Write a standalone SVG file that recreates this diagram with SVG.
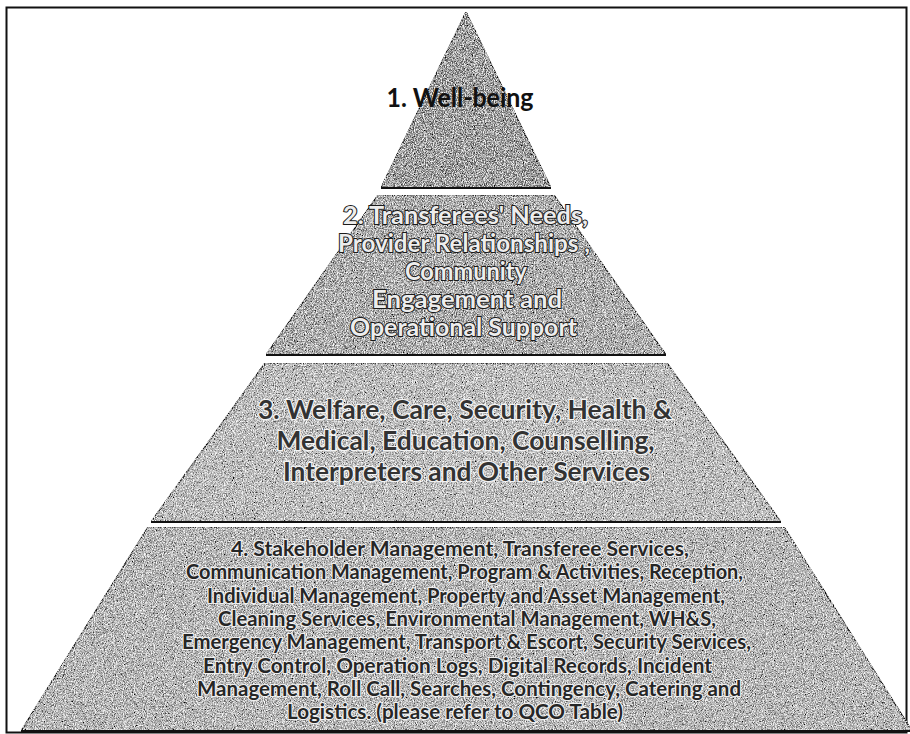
<svg xmlns="http://www.w3.org/2000/svg" width="910" height="734" viewBox="0 0 910 734">
  <defs>
    <!-- speckled print texture for the pyramid bands -->
    <filter id="grain" x="0" y="0" width="1" height="1">
      <feTurbulence type="fractalNoise" baseFrequency="1.1 0.75" numOctaves="2" seed="7" result="noise"/>
      <feColorMatrix in="noise" type="matrix" values="0 0 0 0 0  0 0 0 0 0  0 0 0 0 0  2.6 0 0 0 -1.05" result="darkSpots"/>
      <feColorMatrix in="noise" type="matrix" values="0 0 0 0 1  0 0 0 0 1  0 0 0 0 1  0 2.6 0 0 -1.05" result="lightSpots"/>
      <feComposite in="darkSpots" in2="SourceGraphic" operator="in" result="darkIn"/>
      <feComposite in="lightSpots" in2="SourceGraphic" operator="in" result="lightIn"/>
      <feMerge>
        <feMergeNode in="SourceGraphic"/>
        <feMergeNode in="darkIn"/>
        <feMergeNode in="lightIn"/>
      </feMerge>
    </filter>
  </defs>
  <style>
    .band { stroke: #1e1e1e; stroke-width: 1.3; stroke-linejoin: miter; filter: url(#grain); }
    .base { stroke: #111; stroke-width: 2.2; fill: none; }
    .lbl { font-family: "Lato", "Liberation Sans", sans-serif; text-anchor: middle; }
    .t1 { font-size: 27px; font-weight: 700; fill: #111; }
    .t2 { font-size: 24px; font-weight: 700; fill: #ededed; stroke: #1a1a1a; stroke-width: 2; paint-order: stroke fill; }
    .t3 { font-size: 26px; font-weight: 700; fill: #333333; stroke: #f4f4f4; stroke-width: 2.4; paint-order: stroke fill; }
    .t4 { font-size: 20.5px; font-weight: 700; fill: #262626; stroke: #f0f0f0; stroke-width: 2.2; paint-order: stroke fill; }
  </style>

  <rect width="910" height="734" fill="#ffffff"/>

  <!-- page frame -->
  <rect x="6.5" y="7.5" width="900" height="725" fill="none" stroke="#111" stroke-width="2"/>

  <g id="tier1">
    <polygon class="band" points="466,12 551,188 381,188" fill="#7c7c7c"/>
    <line class="base" x1="381" y1="188" x2="551" y2="188"/>
    <text class="lbl t1" x="460" y="107" textLength="147" lengthAdjust="spacingAndGlyphs">1. Well-being</text>
  </g>

  <g id="tier2">
    <polygon class="band" points="378,195 554,195 666,355 266,355" fill="#979797"/>
    <line class="base" x1="266" y1="355" x2="666" y2="355"/>
    <text class="lbl t2" x="465.5" y="224" textLength="245" lengthAdjust="spacingAndGlyphs">2. Transferees' Needs,</text>
    <text class="lbl t2" x="464" y="252" textLength="252" lengthAdjust="spacingAndGlyphs">Provider Relationships ,</text>
    <text class="lbl t2" x="466" y="280" textLength="122" lengthAdjust="spacingAndGlyphs">Community</text>
    <text class="lbl t2" x="467" y="308" textLength="190" lengthAdjust="spacingAndGlyphs">Engagement  and</text>
    <text class="lbl t2" x="463.5" y="336" textLength="227" lengthAdjust="spacingAndGlyphs">Operational Support</text>
  </g>

  <g id="tier3">
    <polygon class="band" points="265,363 667,363 781,522 151,522" fill="#b2b2b2"/>
    <line class="base" x1="151" y1="522" x2="781" y2="522"/>
    <text class="lbl t3" x="465" y="419" textLength="414" lengthAdjust="spacingAndGlyphs">3. Welfare, Care, Security, Health &amp;</text>
    <text class="lbl t3" x="465.5" y="450" textLength="378" lengthAdjust="spacingAndGlyphs">Medical, Education, Counselling,</text>
    <text class="lbl t3" x="466.5" y="481" textLength="367" lengthAdjust="spacingAndGlyphs">Interpreters and Other Services</text>
  </g>

  <g id="tier4">
    <polygon class="band" points="148,527 784,527 912,731 21,731" fill="#a8a8a8"/>
    <line class="base" x1="21" y1="731" x2="910" y2="731"/>
    <text class="lbl t4" x="460" y="556" textLength="458" lengthAdjust="spacingAndGlyphs">4. Stakeholder Management, Transferee Services,</text>
    <text class="lbl t4" x="464.5" y="579.3" textLength="557" lengthAdjust="spacingAndGlyphs">Communication Management, Program &amp; Activities, Reception,</text>
    <text class="lbl t4" x="466" y="602.6" textLength="518" lengthAdjust="spacingAndGlyphs">Individual Management, Property and Asset Management,</text>
    <text class="lbl t4" x="467" y="625.9" textLength="498" lengthAdjust="spacingAndGlyphs">Cleaning Services, Environmental  Management, WH&amp;S,</text>
    <text class="lbl t4" x="466.5" y="649.2" textLength="569" lengthAdjust="spacingAndGlyphs">Emergency  Management, Transport &amp; Escort, Security Services,</text>
    <text class="lbl t4" x="457.5" y="672.5" textLength="509" lengthAdjust="spacingAndGlyphs">Entry Control, Operation Logs, Digital Records, Incident</text>
    <text class="lbl t4" x="469" y="695.8" textLength="544" lengthAdjust="spacingAndGlyphs">Management, Roll Call, Searches, Contingency, Catering and</text>
    <text class="lbl t4" x="455" y="719.1" textLength="336" lengthAdjust="spacingAndGlyphs">Logistics. (please refer to QCO Table)</text>
  </g>
</svg>
